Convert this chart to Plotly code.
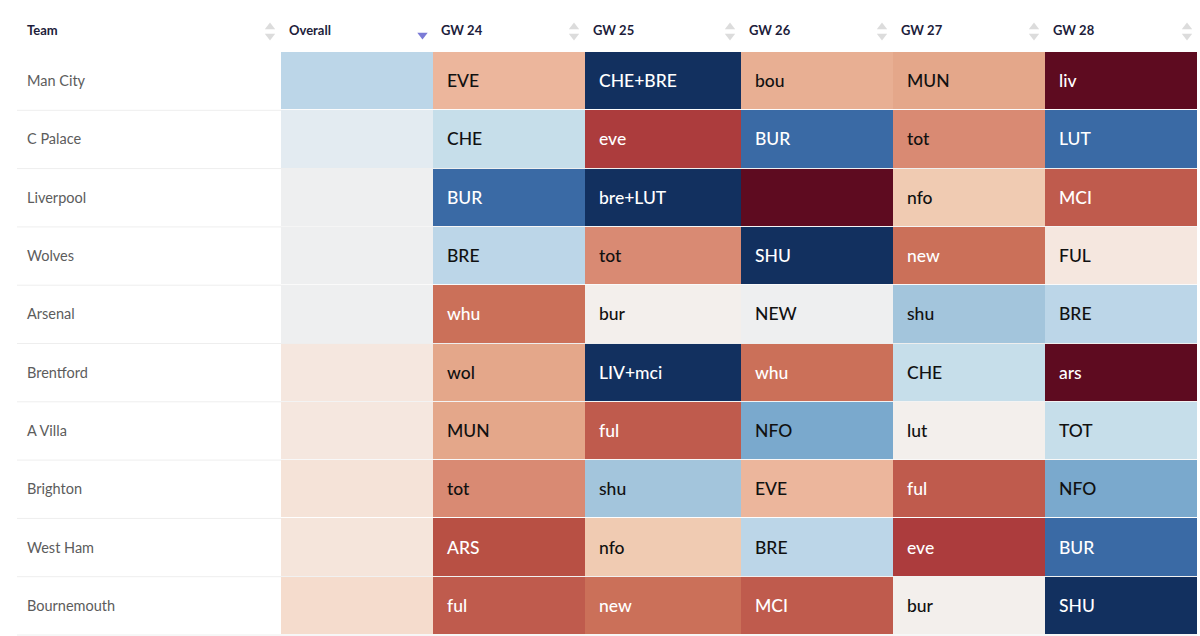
import plotly.graph_objects as go

teams = ["Man City", "C Palace", "Liverpool", "Wolves", "Arsenal",
         "Brentford", "A Villa", "Brighton", "West Ham", "Bournemouth"]
columns = ["Overall", "GW 24", "GW 25", "GW 26", "GW 27", "GW 28"]

# Fixture labels per gameweek
gw24 = ["EVE", "CHE", "BUR", "BRE", "whu", "wol", "MUN", "tot", "ARS", "ful"]
gw25 = ["CHE+BRE", "eve", "bre+LUT", "tot", "bur", "LIV+mci", "ful", "shu", "nfo", "new"]
gw26 = ["bou", "BUR", "", "SHU", "NEW", "whu", "NFO", "EVE", "BRE", "MCI"]
gw27 = ["MUN", "tot", "nfo", "new", "shu", "CHE", "lut", "ful", "eve", "bur"]
gw28 = ["liv", "LUT", "MCI", "FUL", "BRE", "ars", "TOT", "NFO", "BUR", "SHU"]

# Difficulty, 0 = easiest (navy), 1 = hardest (maroon)
overall_z = [0.32, 0.42, 0.47, 0.47, 0.47, 0.55, 0.55, 0.57, 0.56, 0.60]
gw24_z = [0.68, 0.36, 0.10, 0.32, 0.82, 0.72, 0.72, 0.77, 0.89, 0.86]
gw25_z = [0.00, 0.92, 0.00, 0.77, 0.50, 0.00, 0.86, 0.27, 0.64, 0.82]
gw26_z = [0.70, 0.10, 1.00, 0.00, 0.47, 0.82, 0.20, 0.68, 0.32, 0.86]
gw27_z = [0.72, 0.77, 0.64, 0.82, 0.27, 0.36, 0.50, 0.86, 0.92, 0.50]
gw28_z = [1.00, 0.10, 0.86, 0.55, 0.32, 1.00, 0.36, 0.20, 0.10, 0.00]

colorscale = [
    [0.00, "#12305f"], [0.10, "#3a6aa5"], [0.20, "#7aa9cd"], [0.27, "#a3c5dc"],
    [0.32, "#bcd6e8"], [0.36, "#c6deea"], [0.42, "#e3ebf1"], [0.47, "#eeeff0"],
    [0.50, "#f3efec"], [0.55, "#f5e7df"], [0.60, "#f5dccd"], [0.64, "#f0cbb2"],
    [0.68, "#ecb69c"], [0.72, "#e4a78a"], [0.77, "#d98a73"], [0.82, "#cb7059"],
    [0.86, "#bf5b4d"], [0.89, "#b85044"], [0.92, "#ac3c3d"], [1.00, "#5e0b20"],
]

# Page layout, in pixels
col_edges = [281, 433, 585, 741, 893, 1045, 1197]
row_top = 52
row_h = 58.3
row_edges = [row_top + i * row_h for i in range(len(teams) + 1)]

z_cols = [overall_z, gw24_z, gw25_z, gw26_z, gw27_z, gw28_z]
z = [[c[i] for c in z_cols] for i in range(len(teams))]

fig = go.Figure()
fig.add_trace(go.Heatmap(x=col_edges, y=row_edges, z=z, zmin=0, zmax=1,
                         colorscale=colorscale, showscale=False, ygap=1,
                         hoverinfo="skip"))

annotations = []


def add_text(x, y, text, size, color, weight=400):
    annotations.append(dict(x=x, y=y, text=text, showarrow=False, xanchor="left",
                            yanchor="middle", borderpad=0,
                            font=dict(family="Lato", size=size, color=color, weight=weight)))


# Headers
header_y = 30
add_text(26, header_y, "Team", 13, "#1d1d3b", 700)
for name, left in zip(columns, col_edges):
    add_text(left + 7, header_y, name, 13, "#1d1d3b", 700)

# Team names and fixtures
for i, team in enumerate(teams):
    yc = row_edges[i] + row_h / 2 - 0.5
    add_text(26, yc, team, 14.5, "#5c5c5c")
    for j, fixtures in enumerate([gw24, gw25, gw26, gw27, gw28]):
        val = z_cols[j + 1][i]
        color = "#ffffff" if val <= 0.10 or val >= 0.82 else "#111111"
        add_text(col_edges[j + 1] + 13, yc, fixtures[i], 17.5, color, 500)

# Sort arrows
arrow_x = [270, 574, 730, 882, 1034, 1187]
fig.add_trace(go.Scatter(x=arrow_x, y=[27] * len(arrow_x), mode="markers", hoverinfo="skip",
                         marker=dict(symbol="triangle-up", size=9, color="#dcdcdc")))
fig.add_trace(go.Scatter(x=arrow_x, y=[36] * len(arrow_x), mode="markers", hoverinfo="skip",
                         marker=dict(symbol="triangle-down", size=9, color="#dcdcdc")))
fig.add_trace(go.Scatter(x=[422.5], y=[35], mode="markers", hoverinfo="skip",
                         marker=dict(symbol="triangle-down", size=9, color="#7b7bd6")))

# Row separators
shapes = [dict(type="line", xref="x", yref="y", x0=17, x1=1197, y0=y, y1=y, layer="below",
               line=dict(color="#eeeeee", width=1)) for y in row_edges[1:]]

fig.update_layout(
    width=1200, height=636, margin=dict(l=0, r=0, t=0, b=0),
    paper_bgcolor="white", plot_bgcolor="white", showlegend=False,
    xaxis=dict(range=[0, 1200], visible=False, fixedrange=True),
    yaxis=dict(range=[636, 0], visible=False, fixedrange=True),
    annotations=annotations, shapes=shapes,
)
fig.write_html("out.html", config={"displayModeBar": False},
               post_script="document.body.style.margin='0';")
